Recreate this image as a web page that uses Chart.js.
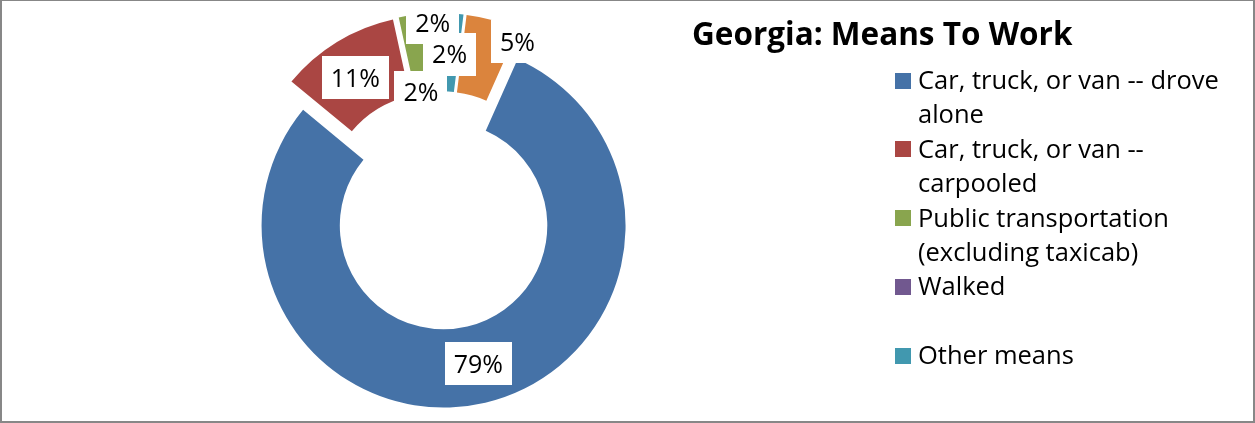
<!DOCTYPE html>
<html>
<head>
<meta charset="utf-8">
<script src="https://cdn.jsdelivr.net/npm/chart.js@4.4.1/dist/chart.umd.min.js"></script>
<style>
  body { margin: 0; background: #fff; }
  #wrap { position: relative; width: 1255px; height: 423px; overflow: hidden; }
  #wrap canvas { position: absolute; left: 0; top: 0; }
  #frame {
    position: absolute; left: 0; top: 0; width: 1255px; height: 423px;
    box-sizing: border-box; border: 2px solid #878787; border-top-width: 1px;
    pointer-events: none;
  }
  #title {
    position: absolute; left: 692px; top: 13px;
    font: bold 31.5px "Open Sans", sans-serif; line-height: 40px; color: #000; white-space: nowrap;
  }
  #legend {
    position: absolute; left: 895px; top: 62px; width: 355px; height: 345px;
    overflow: hidden; font: 25.5px "Open Sans", sans-serif; color: #000;
  }
  .item { display: flex; align-items: flex-start; height: 68.8px; }
  .item i { display: block; width: 16px; height: 16px; margin: 10.5px 7px 0 0; flex: none; }
  .item span { width: 322px; line-height: 34.4px; white-space: normal; }
</style>
</head>
<body>
<div id="wrap">
  <canvas id="chart" width="1255" height="423"></canvas>
  <div id="title"></div>
  <div id="legend"></div>
  <div id="frame"></div>
</div>
<script>
// Georgia, means of transportation to work (share of workers, %)
var chartTitle = 'Georgia: Means To Work';
var categories = [
  'Car, truck, or van -- drove alone',
  'Car, truck, or van -- carpooled',
  'Public transportation (excluding taxicab)',
  'Walked',
  'Other means',
  'Worked at home'
];
var shares = [79.3, 10.6, 2.1, 1.6, 1.7, 4.7];
var colors = ['#4572A7', '#AA4643', '#89A54E', '#71588F', '#4198AF', '#DB843D'];

// pixel nudges for the data labels, away from the ring centroid
var labelNudge = [[2, -1], [-2, 2.5], [4.5, 38.5], [-2, -29.5], [-1.5, 1.5], [35, -16]];

// every slice pulled out from the centre
var explode = {
  id: 'explode',
  beforeDatasetDraw: function (chart, args, opts) {
    var ctx = chart.ctx;
    args.meta.data.forEach(function (arc) {
      var mid = (arc.startAngle + arc.endAngle) / 2;
      ctx.save();
      ctx.translate(Math.cos(mid) * opts.distance, Math.sin(mid) * opts.distance);
      arc.draw(ctx);
      ctx.restore();
    });
    return false;
  }
};

// percentage labels in white boxes
var boxLabels = {
  id: 'boxLabels',
  afterDatasetsDraw: function (chart, args, opts) {
    var ctx = chart.ctx;
    var meta = chart.getDatasetMeta(0);
    var data = chart.data.datasets[0].data;
    var total = data.reduce(function (a, b) { return a + b; }, 0);
    ctx.save();
    ctx.font = opts.size + 'px "Open Sans"';
    ctx.textAlign = 'center';
    ctx.textBaseline = 'alphabetic';
    meta.data.forEach(function (arc, i) {
      var mid = (arc.startAngle + arc.endAngle) / 2;
      var r = (arc.innerRadius + arc.outerRadius) / 2 + opts.distance;
      var x = arc.x + Math.cos(mid) * r + labelNudge[i][0];
      var y = arc.y + Math.sin(mid) * r + labelNudge[i][1];
      var txt = Math.round(data[i] / total * 100) + '%';
      var w = ctx.measureText(txt).width + 18;
      var h = 43;
      ctx.fillStyle = '#fff';
      ctx.fillRect(Math.round(x - w / 2), Math.round(y - h / 2), Math.round(w), h);
      ctx.fillStyle = '#000';
      ctx.fillText(txt, x, y + opts.size * 0.36);
    });
    ctx.restore();
  }
};

function buildLegend() {
  document.getElementById('title').textContent = chartTitle;
  var legend = document.getElementById('legend');
  categories.forEach(function (name, i) {
    var row = document.createElement('div');
    row.className = 'item';
    var sw = document.createElement('i');
    sw.style.background = colors[i];
    var label = document.createElement('span');
    label.textContent = name;
    row.appendChild(sw);
    row.appendChild(label);
    legend.appendChild(row);
  });
}

function drawChart() {
  new Chart(document.getElementById('chart'), {
    type: 'doughnut',
    data: {
      labels: categories,
      datasets: [{
        data: shares,
        backgroundColor: colors,
        borderWidth: 0
      }]
    },
    options: {
      responsive: false,
      animation: false,
      rotation: 24,
      radius: 182,
      cutout: '57%',
      layout: { padding: { left: 0, right: 375, top: 0, bottom: 2 } },
      events: [],
      plugins: {
        legend: { display: false },
        tooltip: { enabled: false },
        title: { display: false },
        explode: { distance: 15.5 },
        boxLabels: { distance: 15.5, size: 25 }
      }
    },
    plugins: [explode, boxLabels]
  });
}

buildLegend();
Promise.all([
  document.fonts.load('25px "Open Sans"'),
  document.fonts.load('bold 31.5px "Open Sans"')
]).then(drawChart, drawChart);
</script>
</body>
</html>
